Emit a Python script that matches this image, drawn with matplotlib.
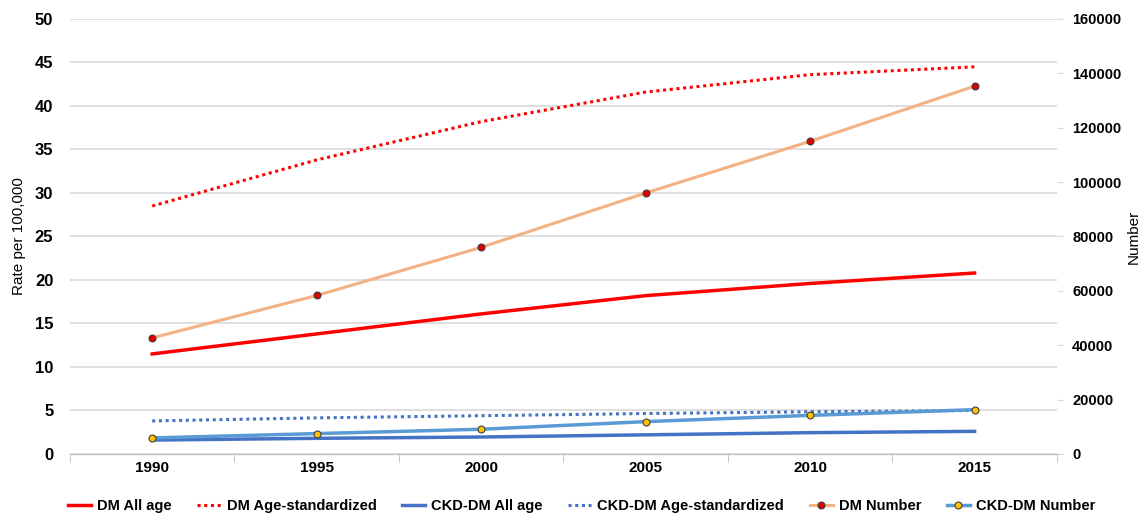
import matplotlib
matplotlib.use("Agg")
import matplotlib.pyplot as plt
from matplotlib.ticker import MultipleLocator

plt.rcParams['font.family'] = ['Liberation Sans', 'DejaVu Sans']

years = ['1990', '1995', '2000', '2005', '2010', '2015']

# rates per 100,000 (left axis)
dm_all_age = [11.5, 13.8, 16.1, 18.2, 19.6, 20.8]
dm_age_std = [28.5, 33.8, 38.2, 41.6, 43.6, 44.5]
ckd_all_age = [1.6, 1.8, 1.95, 2.2, 2.45, 2.6]
ckd_age_std = [3.8, 4.15, 4.4, 4.65, 4.85, 5.0]

# absolute numbers (right axis)
dm_number = [42700, 58300, 76000, 96000, 115000, 135300]
ckd_number = [5900, 7500, 9100, 11900, 14200, 16300]

x = list(range(len(years)))

fig = plt.figure(figsize=(11.45, 5.16), dpi=100)
ax = fig.add_axes([0.0611, 0.1202, 0.8619, 0.843])
ax2 = ax.twinx()

red = '#FF0000'
blue = '#4472C4'
lightblue = '#5B9BD5'
orange = '#F4B183'

l1, = ax.plot(x, dm_all_age, color=red, lw=2.5, label='DM All age')
l2, = ax.plot(x, dm_age_std, color=red, lw=2.2, ls=(0, (1, 1.2)), label='DM Age-standardized')
l3, = ax.plot(x, ckd_all_age, color=blue, lw=2.5, label='CKD-DM All age')
l4, = ax.plot(x, ckd_age_std, color=blue, lw=2.2, ls=(0, (1, 1.2)), label='CKD-DM Age-standardized')
l5, = ax2.plot(x, dm_number, color=orange, lw=2.2, marker='o', ms=5,
               mfc='#E00000', mec='#404040', mew=0.8, label='DM Number')
l6, = ax2.plot(x, ckd_number, color=lightblue, lw=2.5, marker='o', ms=5,
               mfc='#FFC000', mec='#404040', mew=0.8, label='CKD-DM Number')

ax.set_xlim(-0.5, 5.5)
ax.set_ylim(0, 50)
ax2.set_ylim(0, 160000)
ax.yaxis.set_major_locator(MultipleLocator(5))
ax2.yaxis.set_major_locator(MultipleLocator(20000))

ax.set_xticks(x)
ax.set_xticklabels(years, fontweight='bold', fontsize=11)
ax.set_xticks([i + 0.5 for i in range(-1, 6)], minor=True)
ax.tick_params(axis='x', which='major', length=0, pad=5)
ax.tick_params(axis='x', which='minor', length=6, color='#BFBFBF', direction='out')
ax.tick_params(axis='y', length=0, labelsize=12, pad=12)
ax2.tick_params(axis='y', length=4, color='#D9D9D9', labelsize=10.5, pad=7)
for lab in ax.get_yticklabels():
    lab.set_fontweight('bold')
for lab in ax2.get_yticklabels():
    lab.set_fontweight('bold')

ax.grid(axis='y', color='#D9D9D9', lw=1.2)
ax.set_axisbelow(True)
for a in (ax, ax2):
    for s in ['top', 'left', 'right']:
        a.spines[s].set_visible(False)
    a.spines['bottom'].set_color('#BFBFBF')

ax.set_ylabel('Rate per 100,000', fontsize=11, labelpad=6)
ax2.set_ylabel('Number', fontsize=11, labelpad=4)

fig.legend(handles=[l1, l2, l3, l4, l5, l6], loc='center', bbox_to_anchor=(0.508, 0.02),
           ncol=6, frameon=False, prop={'size': 10.5, 'weight': 'bold'},
           handlelength=1.6, columnspacing=1.75, handletextpad=0.4)

fig.savefig('out.png', dpi=100)
